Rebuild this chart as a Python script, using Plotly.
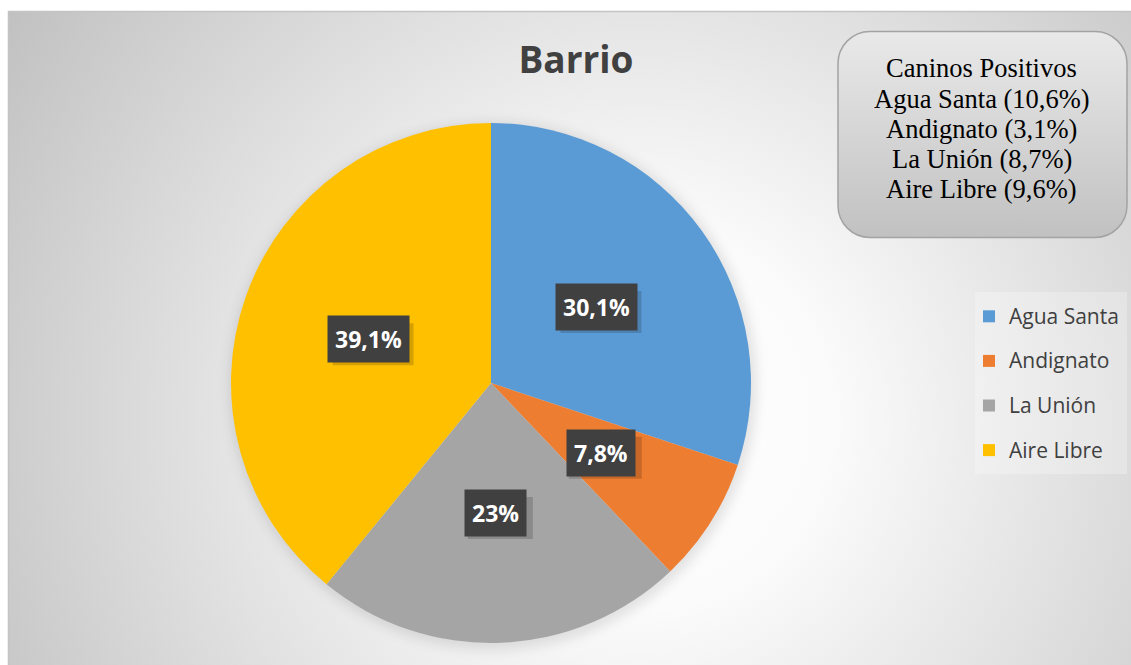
import base64
import math
import plotly.graph_objects as go

# ---- data ----
categories = ["Agua Santa", "Andignato", "La Unión", "Aire Libre"]
values = [30.1, 7.8, 23.0, 39.1]
value_labels = ["30,1%", "7,8%", "23%", "39,1%"]
colors = ["#5B9BD5", "#ED7D31", "#A5A5A5", "#FFC000"]
title_text = "Barrio"
box_lines = ["Caninos Positivos", "Agua Santa (10,6%)", "Andignato (3,1%)",
             "La Unión (8,7%)", "Aire Libre (9,6%)"]

# ---- geometry (pixels) ----
W, H = 1131, 665
cx, cy, R = 491, 383, 260

# ---- background (frame + radial gradient + rounded info box) as an SVG image ----
svg = f'''<svg xmlns="http://www.w3.org/2000/svg" width="{W}" height="{H}" viewBox="0 0 {W} {H}">
<defs>
<radialGradient id="bg" gradientUnits="userSpaceOnUse" cx="640" cy="420" r="760">
<stop offset="0" stop-color="#ffffff"/>
<stop offset="0.25" stop-color="#fbfbfb"/>
<stop offset="1" stop-color="#c0c0c0"/>
</radialGradient>
<linearGradient id="bx" x1="0" y1="0" x2="0" y2="1">
<stop offset="0" stop-color="#e9e9e9"/>
<stop offset="1" stop-color="#c1c1c1"/>
</linearGradient>
<filter id="blur" x="-20%" y="-20%" width="140%" height="140%">
<feGaussianBlur stdDeviation="6"/>
</filter>
</defs>
<rect x="0" y="0" width="{W}" height="{H}" fill="#ffffff"/>
<rect x="8.5" y="11.5" width="1200" height="700" fill="url(#bg)" stroke="#c4c4c4" stroke-width="1.5"/>
<circle cx="{cx + 2}" cy="{cy + 3}" r="{R + 4}" fill="#000000" fill-opacity="0.10" filter="url(#blur)"/>
<rect x="838" y="31.5" width="289" height="206" rx="32" ry="32" fill="url(#bx)" stroke="#a3a3a3" stroke-width="1.5"/>
<rect x="975" y="292" width="152" height="182" fill="#ffffff" fill-opacity="0.25"/>
</svg>'''
svg_uri = "data:image/svg+xml;base64," + base64.b64encode(svg.encode("utf-8")).decode("ascii")

fig = go.Figure()
fig.add_trace(go.Pie(
    labels=[f"<span style='font-size:21px;baseline-shift:5px'>{c}</span>" for c in categories],
    values=values,
    sort=False,
    direction="clockwise",
    rotation=0,
    marker=dict(colors=colors, line=dict(width=0)),
    textinfo="none",
    hoverinfo="label+percent",
    domain=dict(x=[(cx - R) / W, (cx + R) / W], y=[1 - (cy + R) / H, 1 - (cy - R) / H]),
    showlegend=True,
))

# data labels at half radius along each slice's mid-angle
total = sum(values)
annotations = []
shapes = []
acc = 0.0
for v, lab in zip(values, value_labels):
    mid = (acc + v / 2) / total * 2 * math.pi
    acc += v
    px = cx + 0.5 * R * math.sin(mid)
    py = cy - 0.5 * R * math.cos(mid)
    half_w = 20 + 8 * len(lab) / 2
    # soft drop shadow behind the label box
    shapes.append(dict(
        type="rect", xref="paper", yref="paper", layer="above",
        x0=(px - half_w + 4) / W, x1=(px + half_w + 5) / W,
        y0=1 - (py + 26) / H, y1=1 - (py - 16) / H,
        fillcolor="rgba(0,0,0,0.16)", line=dict(width=0),
    ))
    annotations.append(dict(
        x=px / W, y=1 - py / H, xref="paper", yref="paper",
        text=f"<b>{lab}</b>", showarrow=False,
        font=dict(family="Open Sans", size=23, color="#ffffff"),
        bgcolor="#404040", borderpad=7, xanchor="center", yanchor="middle",
    ))

# info box text, one line at a time
baselines = [77, 108, 138, 168, 198]
for line, b in zip(box_lines, baselines):
    annotations.append(dict(
        x=982 / W, y=1 - (b - 9) / H, xref="paper", yref="paper",
        text=line, showarrow=False, align="center",
        font=dict(family="Liberation Serif", size=26.5, color="#000000"),
        xanchor="center", yanchor="middle",
    ))

fig.update_layout(
    width=W, height=H,
    margin=dict(l=0, r=0, t=0, b=0),
    paper_bgcolor="#ffffff",
    title=dict(text=f"<b>{title_text}</b>", x=576 / W, xanchor="center",
               y=1 - 60 / H, yanchor="middle",
               font=dict(family="Open Sans", size=37, color="#404040")),
    legend=dict(x=969 / W, xanchor="left", y=1 - 289 / H, yanchor="top",
                font=dict(family="Open Sans", size=32, color="#404040"),
                bgcolor="rgba(0,0,0,0)", itemwidth=30, traceorder="normal"),
    annotations=annotations,
    shapes=shapes,
    images=[dict(source=svg_uri, xref="paper", yref="paper", x=0, y=1,
                 sizex=1, sizey=1, xanchor="left", yanchor="top",
                 sizing="stretch", layer="below")],
)

fig.write_html("out.html")
